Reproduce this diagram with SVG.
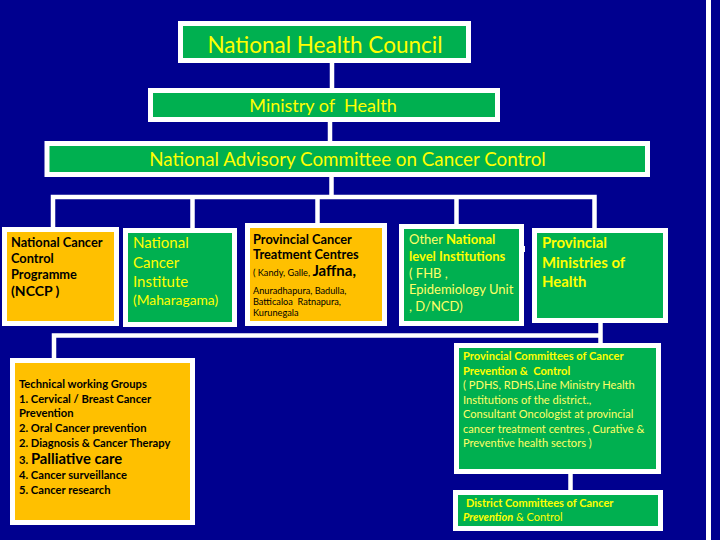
<svg xmlns="http://www.w3.org/2000/svg" width="720" height="540" viewBox="0 0 720 540">
<style>
.bg{fill:#00008f}
.g{fill:#00b050;stroke:#fff;stroke-width:5}
.y{fill:#ffc000;stroke:#fff;stroke-width:5}
.ln{fill:none;stroke:#fff;stroke-width:4.5}
text{font-family:Lato,"Open Sans","Liberation Sans",sans-serif}
.ty{fill:#ffff00}
.tl{fill:#ffff66}
.tk{fill:#000}
.b{font-weight:bold}
</style>
<rect class="bg" x="0" y="0" width="720" height="540"/>
<rect x="706" y="0" width="5" height="540" fill="#fff"/>
<g id="connectors">
<path class="ln" d="M332 63V88"/>
<path class="ln" d="M330 122V141"/>
<path class="ln" d="M331.5 177V197"/>
<path class="ln" d="M53 227V197H594.5V228"/>
<path class="ln" d="M192.5 197V228"/>
<path class="ln" d="M317.5 197V223"/>
<path class="ln" d="M456.5 197V224"/>
<path class="ln" d="M600.5 323V343"/>
<path class="ln" d="M600.5 335.5H54V358"/>
<path class="ln" d="M570.5 474V490"/>
<rect x="515" y="246" width="10" height="6" fill="#fff"/>
</g>
<g id="nhc">
<rect class="g" x="180.5" y="23.5" width="288" height="37"/>
<text class="ty" x="325" y="53" font-size="22.5" text-anchor="middle">National Health Council</text>
</g>
<g id="moh">
<rect class="g" x="150.5" y="90.5" width="347" height="29"/>
<text class="ty" x="323" y="112" font-size="18" text-anchor="middle" xml:space="preserve">Ministry of  Health</text>
</g>
<g id="nac">
<rect class="g" x="47" y="143.5" width="600.5" height="31"/>
<text class="ty" x="347.5" y="166" font-size="18.8" text-anchor="middle">National Advisory Committee on Cancer Control</text>
</g>
<g id="nccp">
<rect class="y" x="4.5" y="229.5" width="112" height="94"/>
<text class="tk b" font-size="12.8">
<tspan x="11" y="247">National Cancer</tspan>
<tspan x="11" y="263">Control</tspan>
<tspan x="11" y="279">Programme</tspan>
<tspan x="11" y="296" font-size="14">(NCCP )</tspan>
</text>
</g>
<g id="nci">
<rect class="g" x="125.5" y="230.5" width="109" height="94"/>
<text class="ty" font-size="15">
<tspan x="133" y="248">National</tspan>
<tspan x="133" y="268">Cancer</tspan>
<tspan x="133" y="287">Institute</tspan>
<tspan x="133" y="305" font-size="13.8">(Maharagama)</tspan>
</text>
</g>
<g id="pctc">
<rect class="y" x="247.5" y="225.5" width="137" height="98"/>
<text class="tk" font-size="9.2">
<tspan x="253" y="244" class="b" font-size="12.8">Provincial Cancer</tspan>
<tspan x="253" y="259" class="b" font-size="12.8">Treatment Centres</tspan>
<tspan x="253" y="276">( Kandy, Galle, <tspan font-size="15" class="b">Jaffna,</tspan></tspan>
<tspan x="253" y="294">Anuradhapura, Badulla,</tspan>
<tspan x="253" y="305" xml:space="preserve">Batticaloa  Ratnapura,</tspan>
<tspan x="253" y="316">Kurunegala</tspan>
</text>
</g>
<g id="other">
<rect class="g" x="401.5" y="226.5" width="120" height="97"/>
<text class="tl" font-size="13">
<tspan x="409" y="244">Other <tspan class="ty b">National</tspan></tspan>
<tspan x="409" y="261" class="ty b">level Institutions</tspan>
<tspan x="409" y="278">( FHB ,</tspan>
<tspan x="409" y="294">Epidemiology Unit</tspan>
<tspan x="409" y="311">, D/NCD)</tspan>
</text>
</g>
<g id="provmin">
<rect class="g" x="534.5" y="230.5" width="131" height="90"/>
<text class="ty b" font-size="14.9">
<tspan x="542" y="248">Provincial</tspan>
<tspan x="542" y="268">Ministries of</tspan>
<tspan x="542" y="287">Health</tspan>
</text>
</g>
<g id="twg">
<rect class="y" x="12.5" y="360.5" width="180" height="162"/>
<text class="tk b" font-size="11.2">
<tspan x="19" y="388">Technical working Groups</tspan>
<tspan x="19" y="403">1. Cervical / Breast Cancer</tspan>
<tspan x="19" y="417">Prevention</tspan>
<tspan x="19" y="432">2. Oral Cancer prevention</tspan>
<tspan x="19" y="447">2. Diagnosis &amp; Cancer Therapy</tspan>
<tspan x="19" y="464">3. <tspan font-size="14.8">Palliative care</tspan></tspan>
<tspan x="19" y="479">4. Cancer surveillance</tspan>
<tspan x="19" y="494">5. Cancer research</tspan>
</text>
</g>
<g id="provcom">
<rect class="g" x="456.5" y="345.5" width="202" height="126"/>
<text class="ty" font-size="11.1">
<tspan x="463" y="360" class="b">Provincial Committees of Cancer</tspan>
<tspan x="463" y="375" class="b" xml:space="preserve">Prevention &amp;  Control</tspan>
<tspan x="463" y="389" class="tl">( PDHS, RDHS,Line Ministry Health</tspan>
<tspan x="463" y="404" class="tl">Institutions of the district.,</tspan>
<tspan x="463" y="418" class="tl">Consultant Oncologist at provincial</tspan>
<tspan x="463" y="433" class="tl">cancer treatment centres , Curative &amp;</tspan>
<tspan x="463" y="447" class="tl">Preventive health sectors )</tspan>
</text>
</g>
<g id="district">
<rect class="g" x="455.5" y="492.5" width="205" height="36"/>
<text class="ty" font-size="11">
<tspan x="466" y="507" class="b">District Committees of Cancer</tspan>
<tspan x="463" y="521"><tspan class="b" font-style="italic">Prevention</tspan>  &amp; Control</tspan>
</text>
</g>
</svg>
